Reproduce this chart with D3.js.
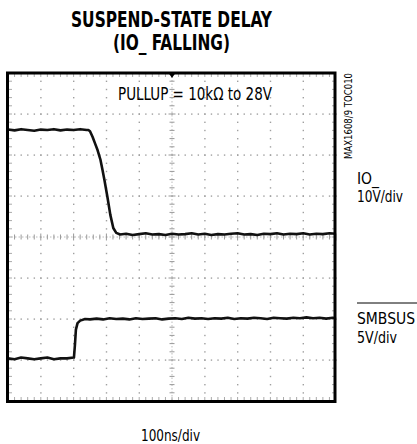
<!DOCTYPE html>
<html><head><meta charset="utf-8">
<script src="https://cdn.jsdelivr.net/npm/d3@7"></script>
<style>body{margin:0;background:#fff}svg{display:block}</style>
</head><body>
<svg id="c" width="417" height="444"></svg>
<script>
// ---- data (time in ns, 100ns/div) ----
const ioTime = [0,20,40,60,80,100,120,140,160,180,200,220,240,245,250,258,265,273,282,288,294,303,312,321,330,342,360,380,400,420,440,460,480,500,520,540,560,580,600,620,640,660,680,700,720,740,760,780,800,820,840,860,880,900,920,940,960,980,1000];
const ioVolts = [26.2,26.0,26.3,26.1,25.9,26.2,26.1,26.3,26.0,26.2,26.1,26.3,26.1,26.1,25.8,24.4,22.9,21.2,18.8,16.4,13.9,9.8,5.4,2.2,1.0,0.6,0.8,0.5,0.7,0.9,0.6,0.7,0.5,0.8,0.6,0.7,0.9,0.6,0.8,0.5,0.7,0.6,0.8,0.9,0.6,0.7,0.5,0.8,0.7,0.9,0.6,0.8,0.7,0.9,0.6,0.8,0.7,0.9,0.8];
const smbTime = [0,20,40,60,80,100,120,140,160,180,200,201,204,207,212,220,235,250,270,290,310,330,350,370,390,410,430,450,470,490,510,530,550,570,590,610,630,650,670,690,710,730,750,770,790,810,830,850,870,890,910,930,950,970,990,1000];
const smbVolts = [0.2,0.1,0.3,0.2,0.1,0.2,0.3,0.1,0.2,0.2,0.3,0.3,1.8,3.7,4.5,4.8,5.0,4.95,5.05,4.95,5.1,5.0,5.05,4.95,5.1,5.0,5.05,5.1,4.95,5.05,5.1,5.0,5.15,5.05,5.1,5.0,5.1,5.05,5.15,5.0,5.1,5.05,5.15,5.1,5.0,5.15,5.1,5.05,5.15,5.1,5.2,5.1,5.15,5.05,5.15,5.1];
const titleLines = ["SUSPEND-STATE DELAY","(IO_ FALLING)"];
const note = "PULLUP = 10kΩ to 28V";
const timeLabel = "100ns/div";
const ch1Labels = ["IO_","10V/div"];
const ch2Labels = ["SMBSUS","5V/div"];
const partLabel = "MAX1608/9 TOC010";

const svg = d3.select("#c");
const X0 = 8, X1 = 336, Y0 = 73, Y1 = 401;
const x = d3.scaleLinear().domain([0,1000]).range([X0,X1]);
const yIO = d3.scaleLinear().domain([-40,40]).range([Y1,Y0]);   // 10V/div, ground at centre
const ySMB = d3.scaleLinear().domain([-5,35]).range([Y1,Y0]);   // 5V/div, ground 3 div below centre
const gx = d3.scaleLinear().domain([0,10]).range([X0,X1]);
const gy = d3.scaleLinear().domain([0,8]).range([Y0,Y1]);
const narrow = "'Liberation Sans Narrow','DejaVu Sans Condensed','Arial Narrow',sans-serif";

const grid = svg.append("g");
const dotC = "#a0a0a0";
// dotted grid
for (let i = 1; i < 10; i++) {
  if (i === 5) continue;
  for (let m = 0; m <= 40; m++) {
    grid.append("rect").attr("x", gx(i)-0.6).attr("y", gy(m/5)-0.6).attr("width",1.4).attr("height",1.4).attr("fill",dotC);
  }
}
for (let j = 1; j < 8; j++) {
  if (j === 4) continue;
  for (let m = 0; m <= 50; m++) {
    grid.append("rect").attr("x", gx(m/5)-0.6).attr("y", gy(j)-0.6).attr("width",1.4).attr("height",1.4).attr("fill",dotC);
  }
}
// centre axes with ticks
grid.append("line").attr("x1",gx(5)).attr("x2",gx(5)).attr("y1",Y0).attr("y2",Y1).attr("stroke","#bbb").attr("stroke-width",1).attr("stroke-dasharray","1.5,2");
grid.append("line").attr("x1",X0).attr("x2",X1).attr("y1",gy(4)).attr("y2",gy(4)).attr("stroke","#bbb").attr("stroke-width",1).attr("stroke-dasharray","1.5,2");
for (let m = 0; m <= 40; m++) {
  const L = (m % 5 === 0) ? 3.5 : 2.5;
  grid.append("line").attr("x1",gx(5)-L).attr("x2",gx(5)+L).attr("y1",gy(m/5)).attr("y2",gy(m/5)).attr("stroke","#999").attr("stroke-width",1);
}
for (let m = 0; m <= 50; m++) {
  const L = (m % 5 === 0) ? 3.5 : 2.5;
  grid.append("line").attr("x1",gx(m/5)).attr("x2",gx(m/5)).attr("y1",gy(4)-L).attr("y2",gy(4)+L).attr("stroke","#999").attr("stroke-width",1);
}
// edge ticks
for (let m = 1; m < 50; m++) {
  grid.append("line").attr("x1",gx(m/5)).attr("x2",gx(m/5)).attr("y1",Y0+1).attr("y2",Y0+4).attr("stroke","#aaa");
  grid.append("line").attr("x1",gx(m/5)).attr("x2",gx(m/5)).attr("y1",Y1-4).attr("y2",Y1-1).attr("stroke","#aaa");
}
for (let m = 1; m < 40; m++) {
  grid.append("line").attr("x1",X0+1).attr("x2",X0+4).attr("y1",gy(m/5)).attr("y2",gy(m/5)).attr("stroke","#aaa");
  grid.append("line").attr("x1",X1-4).attr("x2",X1-1).attr("y1",gy(m/5)).attr("y2",gy(m/5)).attr("stroke","#aaa");
}

// traces
const ioData = ioTime.map((t,i)=>[t,ioVolts[i]]);
const smbData = smbTime.map((t,i)=>[t,smbVolts[i]]);
svg.append("path").datum(ioData).attr("fill","none").attr("stroke","#111").attr("stroke-width",2.6)
  .attr("stroke-linejoin","round")
  .attr("d", d3.line().x(d=>x(d[0])).y(d=>yIO(d[1])));
svg.append("path").datum(smbData).attr("fill","none").attr("stroke","#111").attr("stroke-width",2.6)
  .attr("stroke-linejoin","round")
  .attr("d", d3.line().x(d=>x(d[0])).y(d=>ySMB(d[1])));

// frame
svg.append("rect").attr("x",X0-0.5).attr("y",Y0).attr("width",X1-X0-0.5).attr("height",Y1-Y0+0.5)
  .attr("fill","none").attr("stroke","#000").attr("stroke-width",3);
// trigger marker
svg.append("path").attr("d",`M${gx(5)-3.5},${Y0}L${gx(5)+3.5},${Y0}L${gx(5)},${Y0+5}Z`).attr("fill","#000");

// texts
svg.append("text").attr("x",171.5).attr("y",27).attr("text-anchor","middle")
  .attr("font-family",narrow).attr("font-weight","bold").attr("font-size",22)
  .attr("textLength",201).attr("lengthAdjust","spacingAndGlyphs").text(titleLines[0]);
svg.append("text").attr("x",171.5).attr("y",50).attr("text-anchor","middle")
  .attr("font-family",narrow).attr("font-weight","bold").attr("font-size",22)
  .attr("textLength",117).attr("lengthAdjust","spacingAndGlyphs").text(titleLines[1]);
svg.append("text").attr("x",118).attr("y",100).attr("font-family",narrow).attr("font-size",17)
  .attr("textLength",154).attr("lengthAdjust","spacingAndGlyphs").text(note);
svg.append("text").attr("x",357).attr("y",184).attr("font-family",narrow).attr("font-size",16)
  .attr("textLength",22).attr("lengthAdjust","spacingAndGlyphs").text(ch1Labels[0]);
svg.append("text").attr("x",357).attr("y",202).attr("font-family",narrow).attr("font-size",16)
  .attr("textLength",46).attr("lengthAdjust","spacingAndGlyphs").text(ch1Labels[1]);
svg.append("text").attr("x",357).attr("y",323.5).attr("font-family",narrow).attr("font-size",16)
  .attr("textLength",58).attr("lengthAdjust","spacingAndGlyphs").text(ch2Labels[0]);
svg.append("line").attr("x1",357).attr("x2",417).attr("y1",303).attr("y2",303).attr("stroke","#000").attr("stroke-width",1);
svg.append("text").attr("x",357).attr("y",343).attr("font-family",narrow).attr("font-size",16)
  .attr("textLength",40).attr("lengthAdjust","spacingAndGlyphs").text(ch2Labels[1]);
svg.append("text").attr("x",170.5).attr("y",441).attr("text-anchor","middle").attr("font-family",narrow).attr("font-size",16)
  .attr("textLength",59).attr("lengthAdjust","spacingAndGlyphs").text(timeLabel);
svg.append("text").attr("transform","translate(352,159) rotate(-90)").attr("font-family",narrow).attr("font-size",11)
  .attr("textLength",86).attr("lengthAdjust","spacingAndGlyphs").text(partLabel);
</script>
</body></html>
